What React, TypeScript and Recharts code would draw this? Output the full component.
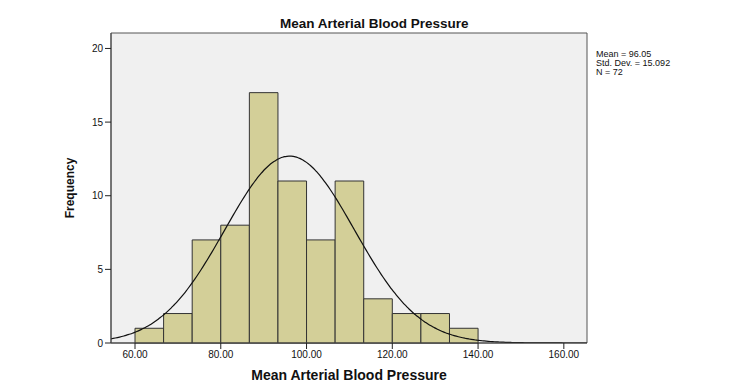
import React from "react";
import { ComposedChart, Line, XAxis, YAxis, ReferenceArea } from "recharts";

const binStarts = [60, 66.667, 73.333, 80, 86.667, 93.333, 100, 106.667, 113.333, 120, 126.667, 133.333];
const binWidth = 6.667;
const counts = [1, 2, 7, 8, 17, 11, 7, 11, 3, 2, 2, 1];
const xTicks = [60, 80, 100, 120, 140, 160];
const yTicks = [0, 5, 10, 15, 20];
const mean = 96.05;
const sd = 15.092;
const n = 72;
const xDomain: [number, number] = [54.4, 165.4];
const yDomain: [number, number] = [0, 21.05];

// fitted normal curve defined by the stated Mean, Std. Dev. and N
const curve: { x: number; y: number }[] = [];
for (let x = xDomain[0]; x <= xDomain[1] + 0.001; x += 0.5) {
  const z = (x - mean) / sd;
  curve.push({ x, y: (n * binWidth) / (sd * Math.sqrt(2 * Math.PI)) * Math.exp(-0.5 * z * z) });
}

const font = "'Liberation Sans', Arial, sans-serif";

export default function App() {
  return (
    <div style={{ position: "relative", width: 738, height: 381, fontFamily: font }}>
      <ComposedChart
        width={738}
        height={381}
        data={curve}
        margin={{ top: 25, right: 159, bottom: 6, left: 38 }}
      >
        <XAxis
          dataKey="x"
          type="number"
          domain={xDomain}
          ticks={xTicks}
          allowDataOverflow
          tickFormatter={(v: number) => v.toFixed(2)}
          tick={{ fontSize: 10, fill: "#111", fontFamily: font }}
          tickSize={6}
          tickLine={{ stroke: "#222" }}
          axisLine={{ stroke: "#444" }}
          height={40}
          label={{ value: "Mean Arterial Blood Pressure", position: "insideBottom", offset: 3, style: { fontSize: 14, fontWeight: "bold", fill: "#111", fontFamily: font } }}
        />
        <YAxis
          type="number"
          domain={yDomain}
          ticks={yTicks}
          allowDataOverflow
          tick={{ fontSize: 10, fill: "#111", fontFamily: font }}
          tickSize={6}
          tickLine={{ stroke: "#222" }}
          axisLine={{ stroke: "#444" }}
          width={65}
          label={{ value: "Frequency", angle: -90, position: "insideLeft", offset: 24, style: { fontSize: 12, fontWeight: "bold", fill: "#111", fontFamily: font, textAnchor: "middle" } }}
        />
        <ReferenceArea x1={xDomain[0]} x2={xDomain[1]} y1={yDomain[0]} y2={yDomain[1]} fill="#f0f0f0" fillOpacity={1} stroke="#555" strokeWidth={1} ifOverflow="extendDomain" />
        {binStarts.map((s, i) => (
          <ReferenceArea
            key={i}
            x1={s}
            x2={s + binWidth}
            y1={0}
            y2={counts[i]}
            fill="#d3cf98"
            fillOpacity={1}
            stroke="#333"
            strokeWidth={1}
          />
        ))}
        <Line
          dataKey="y"
          type="monotone"
          dot={false}
          stroke="#111"
          strokeWidth={1.2}
          isAnimationActive={false}
        />
      </ComposedChart>
      <div style={{ position: "absolute", left: 272, top: 8, fontSize: 13.5, fontWeight: "bold", color: "#111", whiteSpace: "nowrap" }}>
        Mean Arterial Blood Pressure
      </div>
      <div style={{ position: "absolute", left: 588, top: 42, fontSize: 9, lineHeight: "9px", color: "#111", whiteSpace: "nowrap" }}>
        <div>Mean = 96.05</div>
        <div>Std. Dev. = 15.092</div>
        <div>N = 72</div>
      </div>
    </div>
  );
}
